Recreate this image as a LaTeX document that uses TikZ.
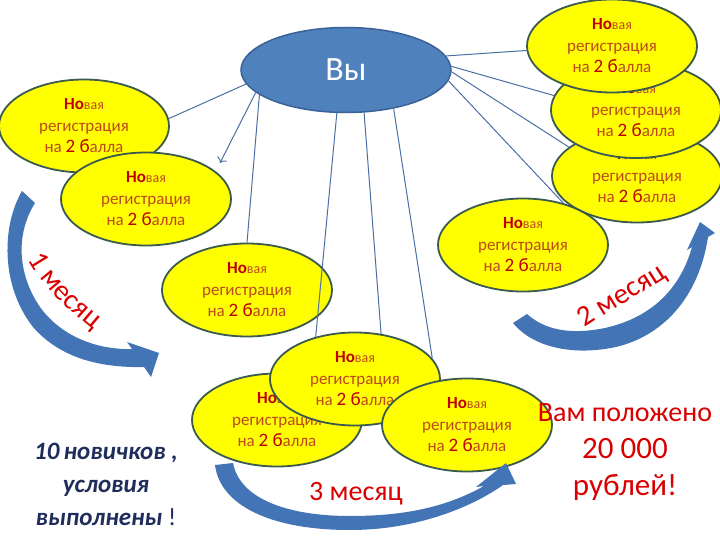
\documentclass[tikz,border=0pt]{standalone}
\usepackage{fontspec}
\setmainfont{Carlito}
\usetikzlibrary{arrows.meta,shapes.geometric,decorations.text}
\definecolor{regyellow}{HTML}{FFFF00}
\definecolor{regline}{HTML}{3A5A4C}
\definecolor{regorange}{HTML}{BE4A1C}
\definecolor{regdark}{HTML}{C00000}
\definecolor{youblue}{HTML}{4F81BD}
\definecolor{youline}{HTML}{3A6296}
\definecolor{linkblue}{HTML}{4A6FA5}
\definecolor{arrowblue}{HTML}{4374B6}
\definecolor{mred}{HTML}{D80000}
\definecolor{navy}{HTML}{1F2D5C}
\newcommand{\regtxt}{{\bfseries\color{regdark}Но}{\fontsize{14}{21.5}\selectfont вая}\\регистрация\\на {\fontsize{19}{21.5}\selectfont\color{regdark}2 б}алла}

\begin{document}
\begin{tikzpicture}[x=1pt,y=-1pt,
  reg/.style={ellipse,draw=regline,fill=regyellow,line width=1.8pt,
              minimum width=170pt,minimum height=93pt,inner sep=0pt,
              align=center,text=regorange,font=\fontsize{17}{21.5}\selectfont},
  you/.style={ellipse,draw=youline,fill=youblue,line width=1.5pt,
              minimum width=210pt,minimum height=85pt,text=white,
              font=\fontsize{34}{36}\selectfont},
  ln/.style={draw=linkblue,line width=1pt},
  bigarr/.style={fill=arrowblue},
  lbl/.style={text=mred,align=center}
]
\useasboundingbox (0,0) rectangle (720,540);

% yellow ellipses, back to front
\node[reg] (e4) at (84,126) {\regtxt};
\node[reg] (e5) at (146,199) {\regtxt};
\node[reg] (e6) at (247,290) {\regtxt};
\node[reg] (e3) at (637,176) {\regtxt};
\node[reg,minimum height=96pt] (e2) at (636,110) {\regtxt};
\node[reg] (e1) at (612,46) {\regtxt};
\node[reg] (e7) at (523,245) {\regtxt};
\node[reg] (e9) at (277,420) {\regtxt};
\node[reg] (e8) at (355,379) {\regtxt};
\node[reg] (e10) at (467,425) {\regtxt};

\node[you] (vy) at (346,70) {Вы};

% links from the centre
\coordinate (free) at (220,163);
\draw[ln] (vy.188) -- (e4.5);
\draw[ln,-{To[length=5pt]}] (vy.194) -- (free);
\draw[ln] (vy.196) -- (e6.north);
\draw[ln] (vy.258) -- (e8.133);
\draw[ln] (vy.293) -- (e8.60);
\draw[ln] (vy.321) -- (e8.15);
\draw[ln] (vy.8) -- (e1.183);
\draw[ln] (vy.2) -- (e2.170);
\draw[ln] (vy.359) -- (e3.157);
\draw[ln] (vy.354) -- (e7.46);

% curved block arrows
\fill[bigarr] (22,191) .. controls (2,225) and (0,285) .. (33,327)
  .. controls (60,358) and (100,368) .. (144,367) -- (151,377) -- (159,353)
  -- (127,342) -- (132,349) .. controls (95,350) and (60,335) .. (40,307)
  .. controls (18,275) and (15,235) .. (35,203) -- cycle;
\fill[bigarr] (513,323) .. controls (535,350) and (580,356) .. (620,346)
  .. controls (670,332) and (700,290) .. (708,237) -- (715,233) -- (700,222)
  -- (687,250) -- (692,247) .. controls (680,290) and (650,318) .. (605,328)
  .. controls (570,335) and (545,330) .. (527,314) -- cycle;
\fill[bigarr] (215,465) .. controls (220,505) and (270,530) .. (350,530)
  .. controls (420,530) and (475,505) .. (503,485) -- (516,484) -- (506,463)
  -- (476,487) -- (484,486) .. controls (450,505) and (410,516) .. (350,516)
  .. controls (290,516) and (240,500) .. (233,463) -- cycle;

% month labels
\path[decorate,decoration={text along path,
  text={|\color{mred}\fontsize{29}{29}\selectfont|1 месяц}}]
  (28,259) .. controls (45,290) and (72,313) .. (110,344);
\path[decorate,decoration={text along path,
  text={|\color{mred}\fontsize{29}{29}\selectfont|2 месяц}}]
  (585,328) .. controls (615,308) and (645,292) .. (686,264);
\node[lbl,font=\fontsize{28}{30}\selectfont] (m3) at (356,494) {3 месяц};

\node[lbl,font=\fontsize{28}{37}\selectfont] (prize) at (625,452)
  {Вам положено\\{\fontsize{31}{37}\selectfont 20 000}\\{\fontsize{31}{37}\selectfont рублей!}};
\node[align=center,text=navy,font=\fontsize{25}{33}\selectfont\bfseries\itshape]
  (done) at (106,484) {10\,новичков ,\\условия\\выполнены {\mdseries\upshape !}};
\end{tikzpicture}
\end{document}
